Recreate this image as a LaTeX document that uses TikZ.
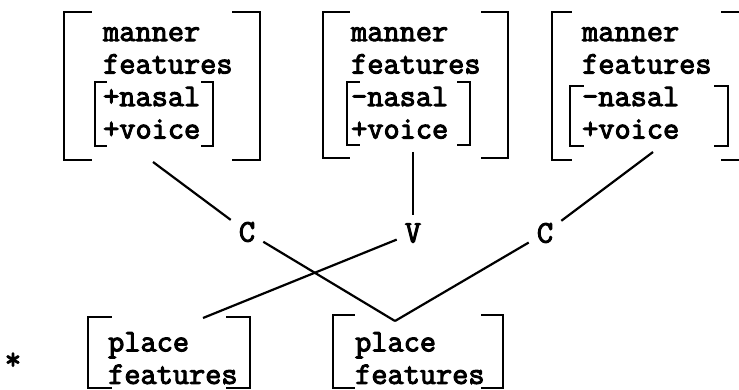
\documentclass[tikz,border=0pt]{standalone}
\usepackage{fontspec}
\usetikzlibrary{positioning}
\newfontfamily\typew{Latin Modern Mono}[FakeBold=3.2]
\newcommand{\featfont}{\typew\fontsize{31.4}{32.5}\selectfont}
\tikzset{
  feat/.style={anchor=north west, inner sep=0pt, align=left, font=\featfont},
  seg/.style={inner sep=8pt, font=\featfont},
  frame/.style={rectangle, draw=none, inner sep=0pt},
  link/.style={line width=2.2pt, draw=black},
  brk/.style={line width=2.4pt, draw=black}
}
% square brackets round a (blank) frame node
\newcommand{\brackets}[2]{%
  \draw[brk] ([xshift=#2]#1.north west) -- (#1.north west) -- (#1.south west) -- ([xshift=#2]#1.south west);
  \draw[brk] ([xshift=-#2]#1.north east) -- (#1.north east) -- (#1.south east) -- ([xshift=-#2]#1.south east);}

\begin{document}
\begin{tikzpicture}[x=1pt,y=-1pt]
  \useasboundingbox (0,0) rectangle (739,390);

  % manner matrices
  \node[frame, minimum width=196pt, minimum height=148pt] (mo1) at (162,86) {};
  \node[frame, minimum width=118pt, minimum height=64pt] (mi1) at (154,114) {};
  \node[feat] (mt1) at (103,27) {manner\\features\\+nasal\\+voice};
  \node[frame, minimum width=185pt, minimum height=146pt] (mo2) at (415.5,85) {};
  \node[frame, minimum width=123pt, minimum height=63pt] (mi2) at (408.5,113.5) {};
  \node[feat] (mt2) at (351,27) {manner\\features\\-nasal\\+voice};
  \node[frame, minimum width=189pt, minimum height=148pt] (mo3) at (646.5,86) {};
  \node[frame, minimum width=158pt, minimum height=60pt] (mi3) at (649,116) {};
  \node[feat] (mt3) at (582,27) {manner\\features\\-nasal\\+voice};

  % place matrices
  \node[frame, minimum width=162pt, minimum height=71pt] (po1) at (169,352.5) {};
  \node[feat] (pt1) at (108,332) {place\\features};
  \node[frame, minimum width=170pt, minimum height=73pt] (po2) at (418,351.5) {};
  \node[feat] (pt2) at (355,332) {place\\features};

  \brackets{mo1}{28pt}
  \brackets{mi1}{12pt}
  \brackets{mo2}{27pt}
  \brackets{mi2}{13pt}
  \brackets{mo3}{20pt}
  \brackets{mi3}{14pt}
  \brackets{po1}{24pt}
  \brackets{po2}{22pt}

  % skeleton
  \node[seg] (c1) at (247,232) {C};
  \node[seg] (v) at (413,233) {V};
  \node[seg] (c2) at (545,233) {C};
  \node[font=\featfont, inner sep=0pt] (star) at (13,361) {*};

  \coordinate (m1) at (153,162);
  \coordinate (m2) at (413,152);
  \coordinate (m3) at (653,152);
  \coordinate (p1) at (203,318);
  \coordinate (p2) at (395,321);

  \draw[link] (m1) -- (c1);
  \draw[link] (m2) -- (v);
  \draw[link] (m3) -- (c2);
  \draw[link] (c1) -- (p2);
  \draw[link] (v) -- (p1);
  \draw[link] (c2) -- (p2);
\end{tikzpicture}
\end{document}
